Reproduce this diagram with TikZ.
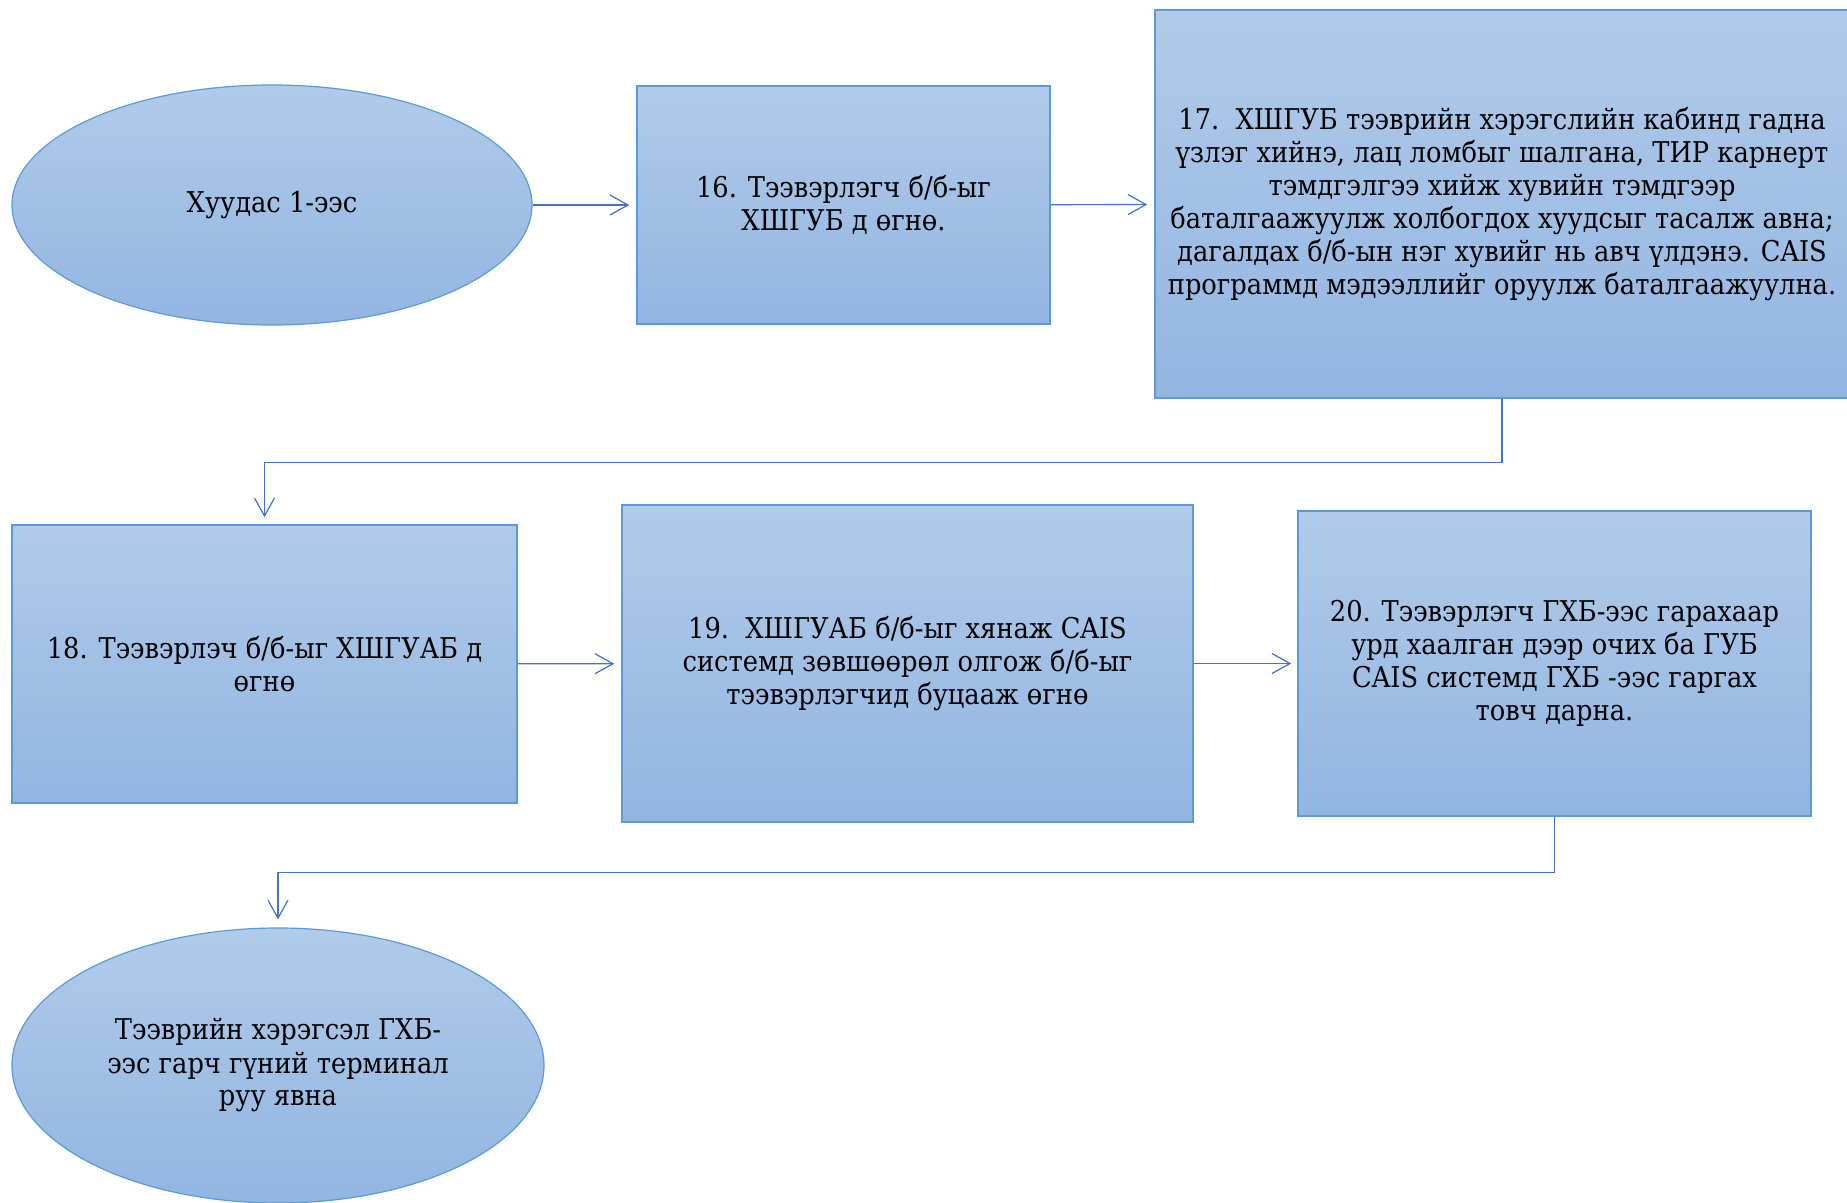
\documentclass[tikz,border=0pt]{standalone}
\usepackage{fontspec}
\setmainfont{DejaVu Serif Condensed}
\usepackage{xcolor}
\usepackage{tikz}
\usetikzlibrary{shapes.geometric,arrows.meta}
\definecolor{fillTop}{HTML}{B1CBE9}
\definecolor{fillBot}{HTML}{92B5E2}
\definecolor{edgeBlue}{HTML}{5B9BD5}
\definecolor{lineBlue}{HTML}{4472C4}

\begin{document}
\begin{tikzpicture}[x=0.5pt,y=-0.5pt,
    every node/.style={font=\rmfamily\fontsize{14.3}{16.5}\selectfont,align=center},
    stepbox/.style={rectangle,draw=edgeBlue,line width=0.8pt,top color=fillTop,bottom color=fillBot,inner sep=0pt},
    endpoint/.style={ellipse,draw=edgeBlue,line width=0.6pt,top color=fillTop,bottom color=fillBot,inner sep=0pt},
    flow/.style={draw=lineBlue,line width=0.6pt,-{Straight Barb[length=9pt,width=10pt]}}]
        \useasboundingbox (0,0) rectangle (1847,1203);
        % Start
        \node[endpoint,minimum width=260pt,minimum height=120pt] (start) at (272,205) {Хуудас 1-ээс};
        % Top row
        \node[stepbox,minimum width=206.5pt,minimum height=119pt] (s16) at (843.5,205) {16. Тээвэрлэгч б/б-ыг\\ХШГУБ д өгнө.};
        \node[stepbox,minimum width=347pt,minimum height=194pt] (s17) at (1502,204) {17.\ \ ХШГУБ тээврийн хэрэгслийн кабинд гадна\\үзлэг хийнэ, лац ломбыг шалгана, ТИР карнерт\\тэмдгэлгээ хийж хувийн тэмдгээр\\баталгаажуулж холбогдох хуудсыг тасалж авна;\\дагалдах б/б-ын нэг хувийг нь авч үлдэнэ. CAIS\\программд мэдээллийг оруулж баталгаажуулна.};
        % Middle row
        \node[stepbox,minimum width=252.5pt,minimum height=139pt] (s18) at (264.5,664) {18. Тээвэрлэч б/б-ыг ХШГУАБ д\\өгнө};
        \node[stepbox,minimum width=285.5pt,minimum height=158.5pt] (s19) at (907.5,663.5) {19.\ \ ХШГУАБ б/б-ыг хянаж CAIS\\системд зөвшөөрөл олгож б/б-ыг\\тээвэрлэгчид буцааж өгнө};
        \node[stepbox,minimum width=256.5pt,minimum height=152.5pt] (s20) at (1554.5,663.5) {20. Тээвэрлэгч ГХБ-ээс гарахаар\\урд хаалган дээр очих ба ГУБ\\CAIS системд ГХБ -ээс гаргах\\товч дарна.};
        % End
        \node[endpoint,minimum width=266pt,minimum height=137.5pt] (end) at (278,1065.5) {Тээврийн хэрэгсэл ГХБ-\\ээс гарч гүний терминал\\руу явна};
        % Flow
        \draw[flow,shorten >=3.5pt] (start) -- (s16);
        \draw[flow,shorten >=3.5pt] (s16) -- (s17);
        \draw[flow,shorten >=3.5pt] (s17.south) -- ++(0,64) -| (s18.north);
        \draw[flow,shorten >=3.5pt] (s18) -- (s19);
        \draw[flow,shorten >=3pt] (s19) -- (s20);
        \draw[flow,shorten >=4pt] (s20.south) -- ++(0,56) -| (end.north);
      \end{tikzpicture}
\end{document}
